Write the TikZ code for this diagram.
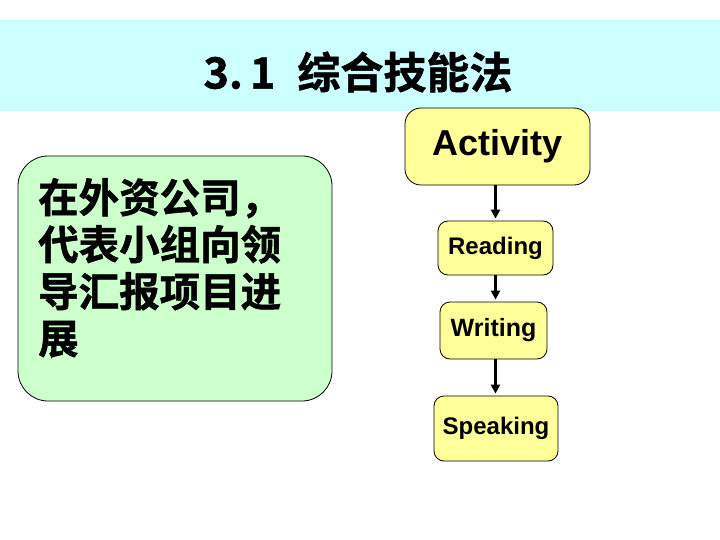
\documentclass[tikz,border=0pt]{standalone}
\usepackage{fontspec}
\setmainfont{Liberation Sans}
\newfontfamily\cjk{Noto Sans CJK SC}[BoldFont={* Bold}, BoldFeatures={FakeBold=1.2}]
\usetikzlibrary{arrows.meta}
\definecolor{bandcyan}{HTML}{CCFFFF}
\definecolor{boxgreen}{HTML}{CCFFCC}
\definecolor{boxyellow}{HTML}{FFFF99}
\tikzset{
  ybox/.style={draw=black, line width=0.8pt, fill=boxyellow, rounded corners=#1},
  ybox/.default=10pt,
  flowarrow/.style={-{Triangle[length=9pt,width=9pt]}, line width=2.6pt, shorten >=2pt},
}
\begin{document}
\begin{tikzpicture}[x=1pt,y=-1pt]
\useasboundingbox (0,0) rectangle (720,540);
\fill[white] (0,0) rectangle (720,540);
\fill[bandcyan] (0,20) rectangle (720,111);
\node[font=\cjk\bfseries\fontsize{43}{46}\selectfont, anchor=center] (title) at (358,72) {3.\,1\hspace{22pt}综合技能法};
% green box
\draw[fill=boxgreen, line width=0.8pt, rounded corners=30pt] (18,156) rectangle (332,401);
\node[font=\cjk\bfseries\fontsize{40.5}{47}\selectfont, anchor=north west, align=left, inner sep=0pt] (txt) at (38,178)
  {在外资公司，\\代表小组向领\\导汇报项目进\\展};
% flow boxes
\node[ybox=16pt, minimum width=185pt, minimum height=77pt, font=\bfseries\fontsize{36}{38}\selectfont] (act) at (497.5,146.5) {Activity};
\node[ybox=10pt, minimum width=115pt, minimum height=54pt, font=\bfseries\fontsize{24}{26}\selectfont] (read) at (495.5,248) {Reading};
\node[ybox=10pt, minimum width=107pt, minimum height=57pt, font=\bfseries\fontsize{25}{27}\selectfont] (write) at (493.5,330.5) {Writing};
\node[ybox=10pt, minimum width=124pt, minimum height=65pt, font=\bfseries\fontsize{24}{26}\selectfont] (speak) at (496,428.5) {Speaking};
\draw[flowarrow] (act.south -| read.north) -- (read.north);
\draw[flowarrow] (read.south) -- (read.south |- write.north);
\draw[flowarrow] (write.south -| read.south) -- (read.south |- speak.north);
\end{tikzpicture}
\end{document}
